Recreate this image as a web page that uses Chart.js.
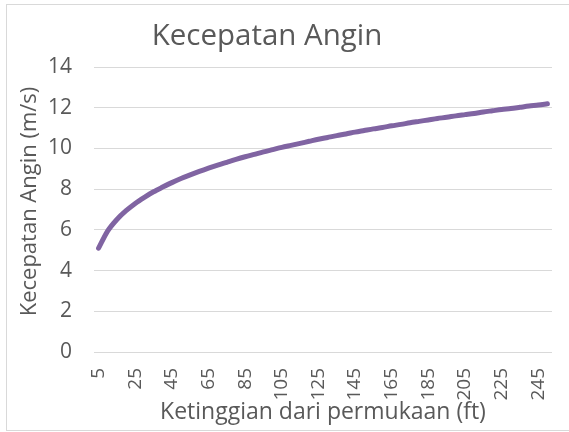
<!DOCTYPE html>
<html>
<head>
<meta charset="utf-8">
<script src="https://cdn.jsdelivr.net/npm/chart.js@4"></script>
<style>
  html, body { margin: 0; padding: 0; background: #fff; overflow: hidden; }
  #wrap { position: relative; width: 569px; height: 432px; }
  #frame { position: absolute; left: 6px; top: 4px; width: 580px; height: 425px; border: 1px solid #d9d9d9; }
  canvas { position: absolute; left: 0; top: 0; }
</style>
</head>
<body>
<div id="wrap">
  <div id="frame"></div>
  <canvas id="windChart" width="569" height="432"></canvas>
</div>
<script>
// === Data ===
const heights = [5, 10, 15, 20, 25, 30, 35, 40, 45, 50,
                 55, 60, 65, 70, 75, 80, 85, 90, 95, 100,
                 105, 110, 115, 120, 125, 130, 135, 140, 145, 150,
                 155, 160, 165, 170, 175, 180, 185, 190, 195, 200,
                 205, 210, 215, 220, 225, 230, 235, 240, 245, 250];
const windSpeed = [5.10, 5.95, 6.51, 6.94, 7.30, 7.60, 7.87, 8.10, 8.32, 8.52,
                   8.70, 8.87, 9.03, 9.18, 9.32, 9.46, 9.59, 9.71, 9.83, 9.94,
                   10.05, 10.15, 10.25, 10.35, 10.45, 10.54, 10.63, 10.71, 10.80, 10.88,
                   10.96, 11.03, 11.11, 11.18, 11.26, 11.33, 11.40, 11.47, 11.53, 11.60,
                   11.66, 11.72, 11.79, 11.85, 11.91, 11.96, 12.02, 12.08, 12.13, 12.19];
const tickEvery = 4;   // hanya tampilkan 5, 25, 45, ...

const chartTitle = 'Kecepatan Angin';
const yTitle = 'Kecepatan Angin (m/s)';
const xTitle = 'Ketinggian dari permukaan (ft)';

const FONT = "'Open Sans', sans-serif";
const TEXT = '#595959';
const GRID = '#d9d9d9';

// Judul chart + judul sumbu Y digambar manual (posisi ala Excel)
const titlesPlugin = {
    id: 'excelTitles',
    afterDraw(chart) {
        const c = chart.ctx;
        c.save();
        c.fillStyle = TEXT;
        c.textAlign = 'center';
        c.textBaseline = 'alphabetic';

        c.font = `29.5px ${FONT}`;
        c.fillText(chartTitle, 267, 45);

        c.translate(36, 201.5);
        c.rotate(-Math.PI / 2);
        c.font = `22px ${FONT}`;
        c.fillText(yTitle, 0, 0);
        c.restore();
    }
};

// === Chart ===
const ctx = document.getElementById('windChart').getContext('2d');
const windChart = new Chart(ctx, {
    type: 'line',
    data: {
        labels: heights,
        datasets: [{
            label: chartTitle,
            data: windSpeed,
            borderColor: '#8064a2',
            borderWidth: 5,
            borderCapStyle: 'round',
            borderJoinStyle: 'round',
            pointRadius: 0,
            tension: 0.3,
            fill: false
        }]
    },
    plugins: [titlesPlugin],
    options: {
        responsive: false,
        animation: false,
        layout: { padding: { left: 0, right: 17, top: 67, bottom: 0 } },
        plugins: {
            legend: { display: false },
            tooltip: { enabled: false },
            title: { display: false }
        },
        scales: {
            x: {
                offset: true,
                grid: { display: false, drawTicks: false },
                border: { display: false },
                ticks: {
                    autoSkip: false,
                    maxRotation: 90,
                    minRotation: 90,
                    padding: 16,
                    color: TEXT,
                    font: { family: FONT, size: 19 },
                    callback: function (val, i) {
                        return i % tickEvery === 0 ? heights[i] : '';
                    }
                },
                title: {
                    display: true,
                    text: xTitle,
                    color: TEXT,
                    font: { family: FONT, size: 23 },
                    padding: { top: 0, bottom: 6 }
                },
                afterFit: function (scale) {
                    scale.height = 80;
                    // label terakhir kosong, jangan sisakan ruang ekstra
                    scale.paddingLeft = 0;
                    scale.paddingRight = 0;
                }
            },
            y: {
                min: 0,
                max: 14,
                grid: { color: GRID, lineWidth: 1, drawTicks: false },
                border: { display: false },
                ticks: {
                    stepSize: 2,
                    padding: 22,
                    color: TEXT,
                    font: { family: FONT, size: 21 }
                },
                afterFit: function (scale) {
                    scale.width = 94;
                    scale.paddingTop = 0;
                    scale.paddingBottom = 0;
                }
            }
        }
    }
});
</script>
</body>
</html>
